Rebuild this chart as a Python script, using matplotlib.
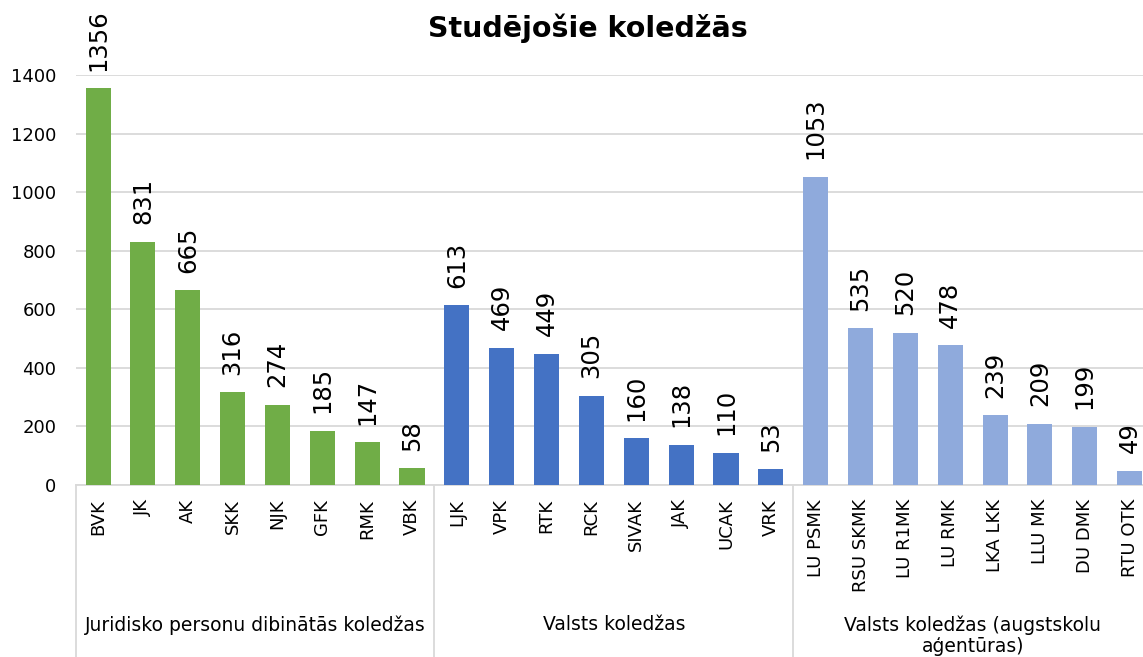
import numpy as np
import matplotlib as mpl
mpl.use("Agg")
import matplotlib.pyplot as plt
import matplotlib.transforms as mtransforms

# data
groups = ["Juridisko personu dibinātās koledžas",
          "Valsts koledžas",
          "Valsts koledžas (augstskolu\naģentūras)"]
juridiskas = ["BVK", "JK", "AK", "SKK", "NJK", "GFK", "RMK", "VBK"]
juridiskas_vals = [1356, 831, 665, 316, 274, 185, 147, 58]
valsts = ["LJK", "VPK", "RTK", "RCK", "SIVAK", "JAK", "UCAK", "VRK"]
valsts_vals = [613, 469, 449, 305, 160, 138, 110, 53]
agentura = ["LU PSMK", "RSU SKMK", "LU R1MK", "LU RMK", "LKA LKK", "LLU MK", "DU DMK", "RTU OTK"]
agentura_vals = [1053, 535, 520, 478, 239, 209, 199, 49]
colors = ["#70AD47", "#4472C4", "#8FAADC"]

labels = juridiskas + valsts + agentura
values = juridiskas_vals + valsts_vals + agentura_vals
bar_colors = ([colors[0]] * len(juridiskas) + [colors[1]] * len(valsts)
              + [colors[2]] * len(agentura))

fig = plt.figure(figsize=(11.43, 6.57), dpi=100)
ax = fig.add_axes([0.0662, 0.2618, 0.9417, 0.624])

x = np.arange(len(labels))
bars = ax.bar(x, values, width=0.56, color=bar_colors, zorder=3)

for xi, v in zip(x, values):
    ax.annotate(str(v), (xi, v), xytext=(0, 12.5), textcoords="offset points",
                rotation=90, ha="center", va="bottom", fontsize=17.5)

ax.set_xlim(-0.5, len(labels) - 0.5)
ax.set_ylim(0, 1400)
ax.set_yticks(range(0, 1401, 200))
ax.yaxis.grid(True, color="#d9d9d9", linewidth=1.3, zorder=0)
ax.tick_params(axis="y", length=0, pad=14, labelsize=13)
ax.set_xticks(x)
ax.set_xticklabels(labels, rotation=90, fontsize=13, va="top")
ax.tick_params(axis="x", length=0, pad=10)
for s in ["top", "right", "left"]:
    ax.spines[s].set_visible(False)
ax.spines["bottom"].set_color("#d9d9d9")
ax.spines["bottom"].set_linewidth(1.3)

# group separators and group names below the tick labels
trans = mtransforms.blended_transform_factory(ax.transData, fig.transFigure)
bottom = 0.2618
sizes = [len(juridiskas), len(valsts), len(agentura)]
start = -0.5
for g, n in zip(groups, sizes):
    ax.plot([start, start], [bottom, 0], transform=trans, color="#d9d9d9",
            linewidth=1.3, clip_on=False)
    mid = start + n / 2
    ypos = 1 - 625 / 657 if "\n" not in g else 1 - 636 / 657
    ax.text(mid, ypos, g, transform=trans, ha="center", va="center",
            fontsize=13.5, linespacing=1.15)
    start += n
ax.plot([start, start], [bottom, 0], transform=trans, color="#d9d9d9",
        linewidth=1.3, clip_on=False)

fig.text(0.514, 1 - 28 / 657, "Studējošie koledžās", ha="center", va="center",
         fontsize=20.5, fontweight="bold")

fig.savefig("out.png", dpi=100)
